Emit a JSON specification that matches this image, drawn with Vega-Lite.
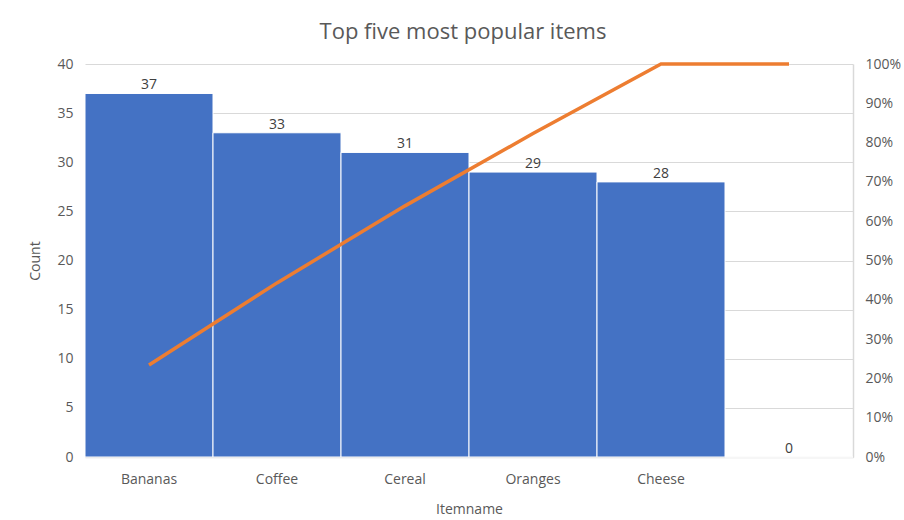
{
  "$schema": "https://vega.github.io/schema/vega-lite/v6.json",
  "width": 768,
  "height": 393,
  "autosize": {"type": "none"},
  "padding": {"left": 85, "top": 64, "right": 51, "bottom": 63},
  "background": "white",
  "config": {
    "font": "Open Sans",
    "view": {"stroke": null},
    "axis": {"labelColor": "#595959", "titleColor": "#595959", "labelFont": "Open Sans", "titleFont": "Open Sans", "titleFontWeight": "normal", "ticks": false}
  },
  "title": {"text": "Top five most popular items", "fontSize": 22, "fontWeight": "normal", "color": "#595959", "font": "Open Sans", "offset": 13, "dx": -6},
  "data": {"values": [
    {"item": "Bananas", "count": 37, "cum": 0.234},
    {"item": "Coffee", "count": 33, "cum": 0.443},
    {"item": "Cereal", "count": 31, "cum": 0.639},
    {"item": "Oranges", "count": 29, "cum": 0.823},
    {"item": "Cheese", "count": 28, "cum": 1.0},
    {"item": " ", "count": 0, "cum": 1.0}
  ]},
  "encoding": {
    "x": {
      "field": "item", "type": "nominal", "sort": null,
      "scale": {"paddingInner": 0, "paddingOuter": 0},
      "axis": {"title": "Itemname", "labelAngle": 0, "labelFontSize": 14, "titleFontSize": 14, "ticks": false, "domainColor": "#d9d9d9", "domainWidth": 1.5, "labelPadding": 15, "titlePadding": 16}
    }
  },
  "layer": [
    {
      "encoding": {
        "y": {"field": "count", "type": "quantitative", "scale": {"domain": [0, 40]},
          "axis": {"title": "Count", "values": [0,5,10,15,20,25,30,35,40], "labelOverlap": false, "domain": false, "ticks": false, "labelFontSize": 14, "titleFontSize": 14, "labelPadding": 12, "titlePadding": 14, "gridColor": "#d9d9d9", "gridWidth": 1}}
      },
      "layer": [
        {
          "mark": {"type": "bar", "color": "#4472C4", "stroke": "white", "strokeWidth": 1}
        },
        {
          "mark": {"type": "text", "dy": -8, "fontSize": 14, "color": "#404040", "font": "Open Sans"},
          "encoding": {
            "text": {"field": "count", "type": "quantitative"}
          }
        }
      ]
    },
    {
      "mark": {"type": "line", "color": "#ED7D31", "strokeWidth": 3.5},
      "encoding": {
        "y": {"field": "cum", "type": "quantitative", "scale": {"domain": [0, 1]},
          "axis": {"orient": "right", "title": null, "format": ".0%", "values": [0,0.1,0.2,0.3,0.4,0.5,0.6,0.7,0.8,0.9,1], "labelOverlap": false, "grid": false, "ticks": false, "domainColor": "#d9d9d9", "domainWidth": 1.5, "labelFontSize": 14, "labelPadding": 12}}
      }
    }
  ],
  "resolve": {"scale": {"y": "independent"}}
}
